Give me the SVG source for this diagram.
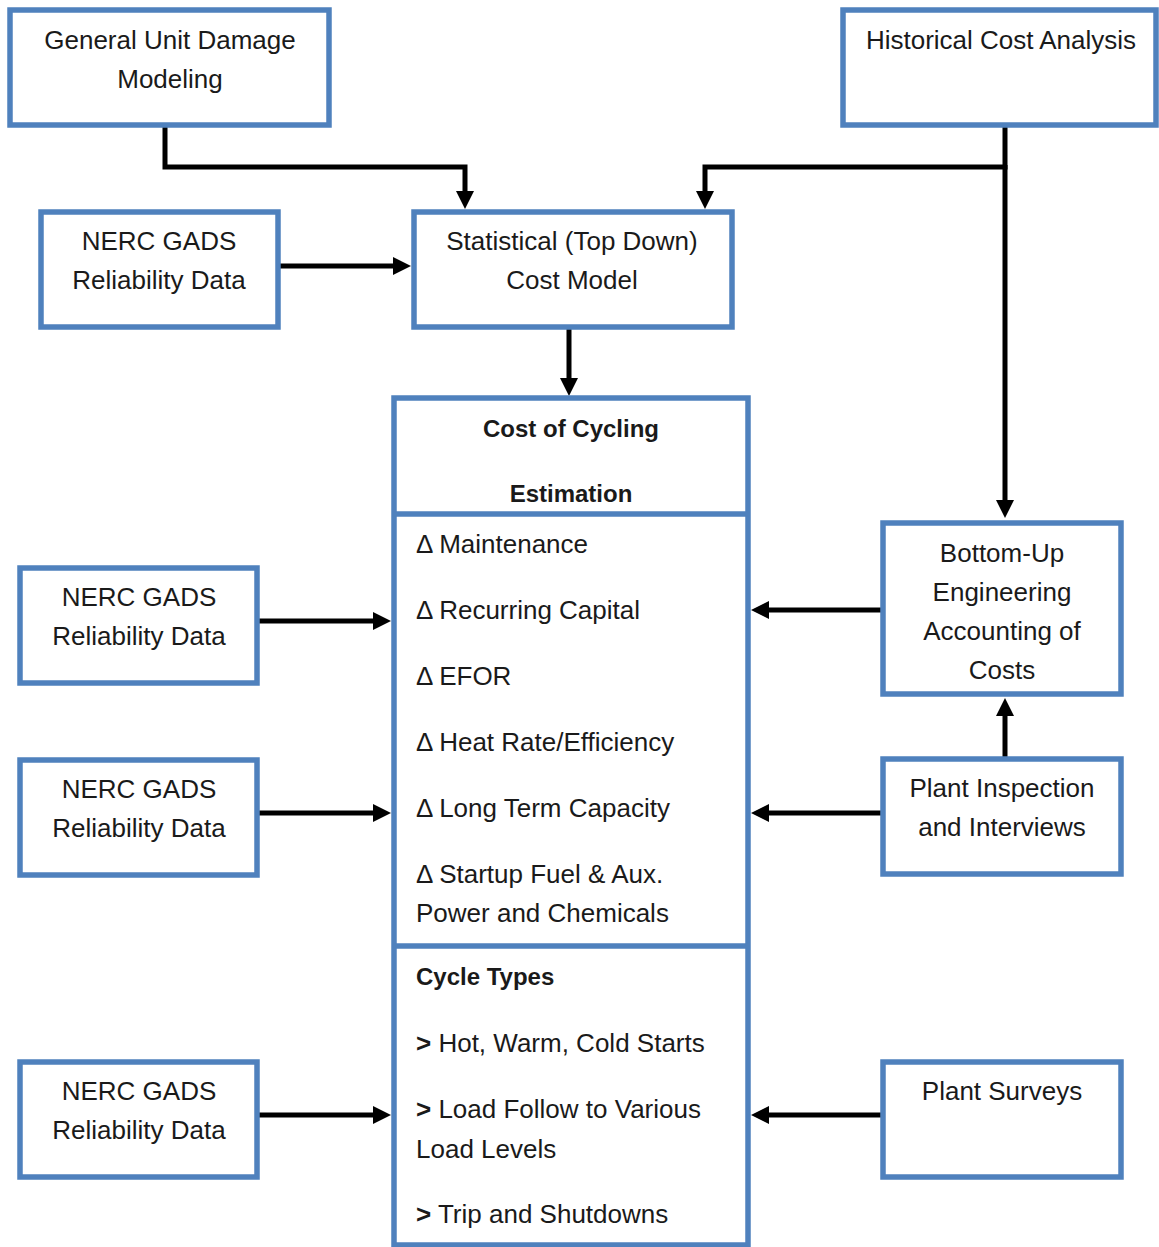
<svg xmlns="http://www.w3.org/2000/svg" width="1159" height="1247" viewBox="0 0 1159 1247">
<defs>
<style>
.box{fill:#fff;stroke:#4F81BD;stroke-width:5.5}
.t{font-family:"Liberation Sans",Arial,sans-serif;font-size:26px;fill:#1a1a1a}
.c{text-anchor:middle}
.b{font-weight:bold;font-size:24px}
.con{fill:none;stroke:#000;stroke-width:5}
</style>
<marker id="ah" markerUnits="userSpaceOnUse" markerWidth="20" markerHeight="20" viewBox="0 0 20 20" refX="2" refY="10" orient="auto">
<path d="M0,1 L18,10 L0,19 z" fill="#000"/>
</marker>
</defs>
<rect width="1159" height="1247" fill="#fff"/>
<g id="connectors">
<path class="con" d="M165,127 V167 H465 V193" marker-end="url(#ah)"/>
<path class="con" d="M1005,127 V167 H705 V193" marker-end="url(#ah)"/>
<path class="con" d="M1005,165 V502" marker-end="url(#ah)"/>
<path class="con" d="M280,266 H395" marker-end="url(#ah)"/>
<path class="con" d="M569,327 V380" marker-end="url(#ah)"/>
<path class="con" d="M258,621 H375" marker-end="url(#ah)"/>
<path class="con" d="M258,813 H375" marker-end="url(#ah)"/>
<path class="con" d="M258,1115 H375" marker-end="url(#ah)"/>
<path class="con" d="M881,610 H767" marker-end="url(#ah)"/>
<path class="con" d="M881,813 H767" marker-end="url(#ah)"/>
<path class="con" d="M881,1115 H767" marker-end="url(#ah)"/>
<path class="con" d="M1005,757 V714" marker-end="url(#ah)"/>
</g>
<g id="general-unit-damage">
<rect class="box" x="10" y="10" width="319" height="115"/>
<text class="t c" x="170" y="49">General Unit Damage</text>
<text class="t c" x="170" y="88">Modeling</text>
</g>
<g id="historical-cost">
<rect class="box" x="843" y="10" width="313" height="115"/>
<text class="t c" x="1001" y="49">Historical Cost Analysis</text>
</g>
<g id="nerc-top">
<rect class="box" x="41" y="212" width="237" height="115"/>
<text class="t c" x="159" y="250">NERC GADS</text>
<text class="t c" x="159" y="289">Reliability Data</text>
</g>
<g id="statistical">
<rect class="box" x="414" y="212" width="318" height="115"/>
<text class="t c" x="572" y="250">Statistical (Top Down)</text>
<text class="t c" x="572" y="289">Cost Model</text>
</g>
<g id="cost-of-cycling">
<rect class="box" x="394" y="398" width="354" height="847"/>
<line x1="394" y1="514" x2="748" y2="514" stroke="#4F81BD" stroke-width="5.5"/>
<line x1="394" y1="946" x2="748" y2="946" stroke="#4F81BD" stroke-width="5.5"/>
<text class="t c b" x="571" y="437">Cost of Cycling</text>
<text class="t c b" x="571" y="502">Estimation</text>
<text class="t" x="416" y="553">Δ Maintenance</text>
<text class="t" x="416" y="619">Δ Recurring Capital</text>
<text class="t" x="416" y="685">Δ EFOR</text>
<text class="t" x="416" y="751">Δ Heat Rate/Efficiency</text>
<text class="t" x="416" y="817">Δ Long Term Capacity</text>
<text class="t" x="416" y="883">Δ Startup Fuel &amp; Aux.</text>
<text class="t" x="416" y="922">Power and Chemicals</text>
<text class="t b" x="416" y="985">Cycle Types</text>
<text class="t" x="416" y="1052"><tspan font-weight="bold">&gt;</tspan> Hot, Warm, Cold Starts</text>
<text class="t" x="416" y="1118"><tspan font-weight="bold">&gt;</tspan> Load Follow to Various</text>
<text class="t" x="416" y="1158">Load Levels</text>
<text class="t" x="416" y="1223"><tspan font-weight="bold">&gt;</tspan> Trip and Shutdowns</text>
</g>
<g id="nerc-2">
<rect class="box" x="20" y="568" width="237" height="115"/>
<text class="t c" x="139" y="606">NERC GADS</text>
<text class="t c" x="139" y="645">Reliability Data</text>
</g>
<g id="nerc-3">
<rect class="box" x="20" y="760" width="237" height="115"/>
<text class="t c" x="139" y="798">NERC GADS</text>
<text class="t c" x="139" y="837">Reliability Data</text>
</g>
<g id="nerc-4">
<rect class="box" x="20" y="1062" width="237" height="115"/>
<text class="t c" x="139" y="1100">NERC GADS</text>
<text class="t c" x="139" y="1139">Reliability Data</text>
</g>
<g id="bottom-up">
<rect class="box" x="883" y="523" width="238" height="171"/>
<text class="t c" x="1002" y="562">Bottom-Up</text>
<text class="t c" x="1002" y="601">Engineering</text>
<text class="t c" x="1002" y="640">Accounting of</text>
<text class="t c" x="1002" y="679">Costs</text>
</g>
<g id="plant-inspection">
<rect class="box" x="883" y="759" width="238" height="115"/>
<text class="t c" x="1002" y="797">Plant Inspection</text>
<text class="t c" x="1002" y="836">and Interviews</text>
</g>
<g id="plant-surveys">
<rect class="box" x="883" y="1062" width="238" height="115"/>
<text class="t c" x="1002" y="1100">Plant Surveys</text>
</g>
</svg>
